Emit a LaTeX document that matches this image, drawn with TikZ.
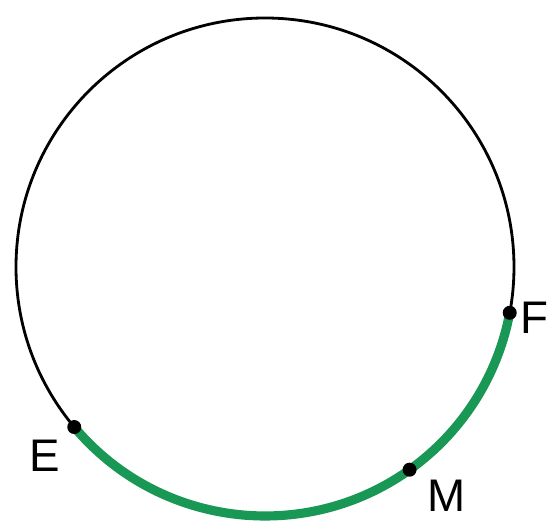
\documentclass[tikz,border=0pt]{standalone}
\usepackage{fontspec}
\setmainfont{Liberation Sans}
\definecolor{arcgreen}{RGB}{24,152,84}

\begin{document}
\begin{tikzpicture}[x=0.01cm, y=0.01cm, font=\fontsize{13}{15}\selectfont]
  \def\R{249}
  \useasboundingbox (0,0) rectangle (547,524);
  \coordinate (O) at (265,257);

  \draw[line width=0.8pt] (O) circle (\R);
  \draw[arcgreen, line width=2.6pt] ([shift={(-140:\R)}]O) arc (-140:-10.6:\R);

  \foreach \n/\a in {E/-140, M/-54.5, F/-10.6} {
    \coordinate (\n) at ([shift={(\a:\R)}]O);
    \fill (\n) circle (7);
  }

  \node (labelE) at (45,68) {E};
  \node (labelM) at (447,28) {M};
  \node (labelF) at (534,206) {F};
\end{tikzpicture}
\end{document}
